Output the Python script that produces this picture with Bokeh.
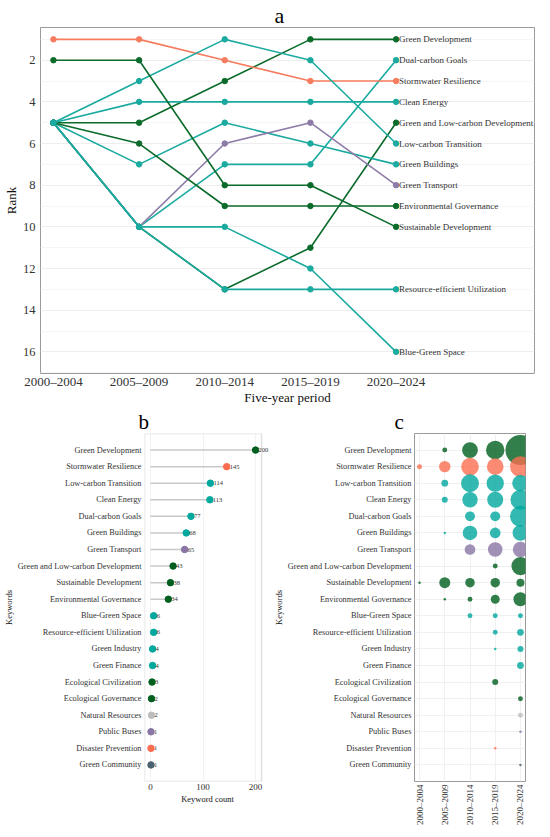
import math
from bokeh.plotting import figure
from bokeh.layouts import column, row
from bokeh.models import Range1d, FixedTicker, LabelSet, FactorRange, ColumnDataSource, BoxAnnotation
from bokeh.embed import file_html
from bokeh.resources import INLINE
from bokeh.core.properties import value

FONT = "Liberation Serif"

periods = ["2000–2004", "2005–2009", "2010–2014", "2015–2019", "2020–2024"]

# ---- panel a : ranks of the top keywords per period ----
rank_keywords = ["Green Development", "Dual-carbon Goals", "Stormwater Resilience", "Clean Energy",
                 "Green and Low-carbon Development", "Low-carbon Transition", "Green Buildings",
                 "Green Transport", "Environmental Governance", "Sustainable Development",
                 "Resource-efficient Utilization", "Blue-Green Space"]
rank_groups = ["green", "teal", "orange", "teal", "green", "teal", "teal", "purple",
               "green", "green", "teal", "teal"]
rank_2000_2004 = [5, 5, 1, 5, 5, 5, 5, 5, 5, 2, 5, 5]
rank_2005_2009 = [5, 10, 1, 4, 10, 3, 7, 10, 6, 2, 10, 10]
rank_2010_2014 = [3, 7, 2, 4, 13, 1, 5, 6, 9, 8, 13, 10]
rank_2015_2019 = [1, 7, 3, 4, 11, 2, 6, 5, 9, 8, 13, 12]
rank_2020_2024 = [1, 2, 3, 4, 5, 6, 7, 8, 9, 10, 13, 16]
rank_ticks = [2, 4, 6, 8, 10, 12, 14, 16]

# ---- panel b / c : keyword counts ----
keywords = ["Green Development", "Stormwater Resilience", "Low-carbon Transition", "Clean Energy",
            "Dual-carbon Goals", "Green Buildings", "Green Transport",
            "Green and Low-carbon Development", "Sustainable Development",
            "Environmental Governance", "Blue-Green Space", "Resource-efficient Utilization",
            "Green Industry", "Green Finance", "Ecological Civilization", "Ecological Governance",
            "Natural Resources", "Public Buses", "Disaster Prevention", "Green Community"]
keyword_groups = ["green", "orange", "teal", "teal", "teal", "teal", "purple", "green", "green",
                  "green", "teal", "teal", "teal", "teal", "green", "green", "grey", "purple",
                  "orange", "slate"]
totals = [200, 145, 114, 113, 77, 68, 65, 43, 38, 34, 6, 6, 4, 4, 3, 2, 2, 1, 1, 1]
count_ticks = [0, 100, 200]

count_2000_2004 = [0, 2, 0, 0, 0, 0, 0, 0, 1, 0, 0, 0, 0, 0, 0, 0, 0, 0, 0, 0]
count_2005_2009 = [2, 14, 4, 3, 0, 1, 0, 0, 13, 1, 0, 0, 0, 0, 0, 0, 0, 0, 0, 0]
count_2010_2014 = [30, 39, 40, 28, 10, 25, 12, 0, 9, 2, 2, 0, 0, 0, 0, 0, 0, 0, 0, 0]
count_2015_2019 = [43, 34, 37, 31, 10, 12, 25, 2, 9, 8, 2, 2, 1, 0, 3, 0, 0, 0, 1, 0]
count_2020_2024 = [125, 56, 33, 51, 57, 30, 28, 41, 6, 23, 2, 4, 3, 4, 0, 2, 2, 1, 0, 1]

palette = {"green": "#005F1E", "teal": "#00A89D", "orange": "#FA6E4F", "purple": "#8A76A5",
           "grey": "#BDBDBD", "slate": "#4A6270"}
line_palette = {"green": "#0B6B2B", "teal": "#1AAA9F", "orange": "#F67C5F", "purple": "#8E7CA8"}

TXT = "#333333"
BORDER = "#9A9A9A"


def style_axes(p, xtick, ytick, label_size):
    for ax, sz in ((p.xaxis, xtick), (p.yaxis, ytick)):
        ax.axis_line_color = None
        ax.major_tick_line_color = None
        ax.minor_tick_line_color = None
        ax.major_tick_out = 0
        ax.major_tick_in = 0
        ax.minor_tick_out = 0
        ax.minor_tick_in = 0
        ax.major_label_text_font = FONT
        ax.major_label_text_font_size = sz
        ax.major_label_text_color = TXT
        ax.axis_label_text_font = FONT
        ax.axis_label_text_font_size = label_size
        ax.axis_label_text_font_style = "normal"
        ax.axis_label_text_color = "#111111"
    p.outline_line_color = BORDER
    p.outline_line_width = 1


def style_title(p, text, size, offset, standoff):
    p.title.text = text
    p.title.align = "left"
    p.title.offset = offset
    p.title.standoff = standoff
    p.title.text_font = FONT
    p.title.text_font_size = size
    p.title.text_font_style = "normal"
    p.title.text_color = "#000000"


# ================= panel a =================
pa = figure(frame_width=494, frame_height=346,
            x_range=Range1d(-0.151, 5.616), y_range=Range1d(17.04, 0.43),
            output_backend="svg", toolbar_location=None,
            min_border_left=20, min_border_right=8, min_border_top=0, min_border_bottom=0)
style_title(pa, "a", "22px", 234, 0)
style_axes(pa, "13px", "12.5px", "13px")
pa.xaxis.ticker = FixedTicker(ticks=list(range(len(periods))))
pa.xaxis.major_label_overrides = {i: p for i, p in enumerate(periods)}
pa.xaxis.major_label_standoff = 0
pa.xaxis.axis_label_standoff = -2
pa.yaxis.ticker = FixedTicker(ticks=rank_ticks, minor_ticks=[t - 1 for t in rank_ticks] + [17])
pa.yaxis.major_label_standoff = 5
pa.yaxis.axis_label_standoff = 1
pa.xaxis.axis_label = "Five-year period"
pa.yaxis.axis_label = "Rank"
pa.xgrid.grid_line_color = None
pa.ygrid.grid_line_color = "#EEEEEE"
pa.ygrid.minor_grid_line_color = "#F6F6F6"

rank_cols = [rank_2000_2004, rank_2005_2009, rank_2010_2014, rank_2015_2019, rank_2020_2024]
xs = list(range(len(periods)))
for i, kw in enumerate(rank_keywords):
    ys = [col[i] for col in rank_cols]
    c = line_palette[rank_groups[i]]
    pa.line(xs, ys, line_color=c, line_width=1.6)
    pa.scatter(xs, ys, size=5.5, fill_color=c, line_color=c)

end_src = ColumnDataSource(dict(x=[xs[-1]] * len(rank_keywords), y=rank_2020_2024, text=rank_keywords))
pa.add_layout(LabelSet(x="x", y="y", text="text", source=end_src, x_offset=3,
                       text_baseline="middle", text_align="left",
                       text_font=value(FONT), text_font_size="9px", text_color=TXT))

# ================= panel b =================
FB_H = 348
yfac = keywords[::-1]
B_LEFT, B_RIGHT = -11.4, 211.4          # visible box of panel b (data units)
B_EXTRA = 17.0                           # room for the value text beyond the box
pb = figure(frame_width=126, frame_height=FB_H,
            x_range=Range1d(B_LEFT, B_RIGHT + B_EXTRA),
            y_range=FactorRange(factors=yfac, range_padding=0.5, range_padding_units="absolute"),
            output_backend="svg", toolbar_location=None,
            min_border_left=100, min_border_right=0, min_border_top=0, min_border_bottom=0)
style_title(pb, "b", "21px", -6, 0)
style_axes(pb, "9px", "8.3px", "8.5px")
pb.outline_line_color = None
pb.add_layout(BoxAnnotation(left=B_LEFT, right=B_RIGHT, fill_alpha=0, fill_color=None,
                            line_color=BORDER, line_width=1.5, level="overlay"))
pb.xaxis.ticker = FixedTicker(ticks=count_ticks)
pb.xaxis.major_label_standoff = 2
pb.xaxis.axis_label_standoff = 1
pb.yaxis.major_label_standoff = 3
pb.yaxis.axis_label_standoff = 1
pb.xaxis.axis_label = "Keyword count"
pb.yaxis.axis_label = "Keywords"
pb.xgrid.grid_line_color = "#F2F2F2"
pb.ygrid.grid_line_color = None

colors_b = [palette[g] for g in keyword_groups]
pb.segment(x0=[0] * len(keywords), y0=keywords, x1=totals, y1=keywords,
           line_color="#C8C8C8", line_width=1.5)
pb.scatter(x=totals, y=keywords, size=6.5, fill_color=colors_b, line_color=colors_b)
val_src = ColumnDataSource(dict(x=totals, y=keywords, text=[str(t) for t in totals]))
pb.add_layout(LabelSet(x="x", y="y", text="text", source=val_src, x_offset=3,
                       text_baseline="middle", text_font=value(FONT), text_font_size="6.5px",
                       text_color=TXT))

# ================= panel c =================
pc = figure(frame_width=111, frame_height=FB_H,
            x_range=Range1d(-0.2, 4.2),
            y_range=FactorRange(factors=yfac, range_padding=0.5, range_padding_units="absolute"),
            output_backend="svg", toolbar_location=None,
            min_border_left=100, min_border_right=8, min_border_top=0, min_border_bottom=0)
style_title(pc, "c", "21px", -20, 0)
style_axes(pc, "9px", "8.3px", "8.5px")
pc.xaxis.ticker = FixedTicker(ticks=list(range(len(periods))))
pc.xaxis.major_label_overrides = {i: p for i, p in enumerate(periods)}
pc.xaxis.major_label_orientation = math.pi / 2
pc.xaxis.major_label_standoff = 3
pc.yaxis.major_label_standoff = 3
pc.yaxis.axis_label_standoff = 1
pc.yaxis.axis_label = "Keywords"
pc.xgrid.grid_line_color = "#F0F0F0"
pc.ygrid.grid_line_color = "#F0F0F0"

count_cols = [count_2000_2004, count_2005_2009, count_2010_2014, count_2015_2019, count_2020_2024]
nmax = max(max(c) for c in count_cols)
bx, by, bs, bc = [], [], [], []
for i, kw in enumerate(keywords):
    for j, col in enumerate(count_cols):
        n = col[i]
        if n > 0:
            bx.append(j)
            by.append(kw)
            bs.append(2.5 + 27.5 * math.sqrt((n - 1) / (nmax - 1)))
            bc.append(palette[keyword_groups[i]])
pc.scatter(x=bx, y=by, size=bs, fill_color=bc, fill_alpha=0.8, line_color=None)

layout = column(pa, row(pb, pc))
open("out.html", "w").write(file_html(layout, INLINE))
